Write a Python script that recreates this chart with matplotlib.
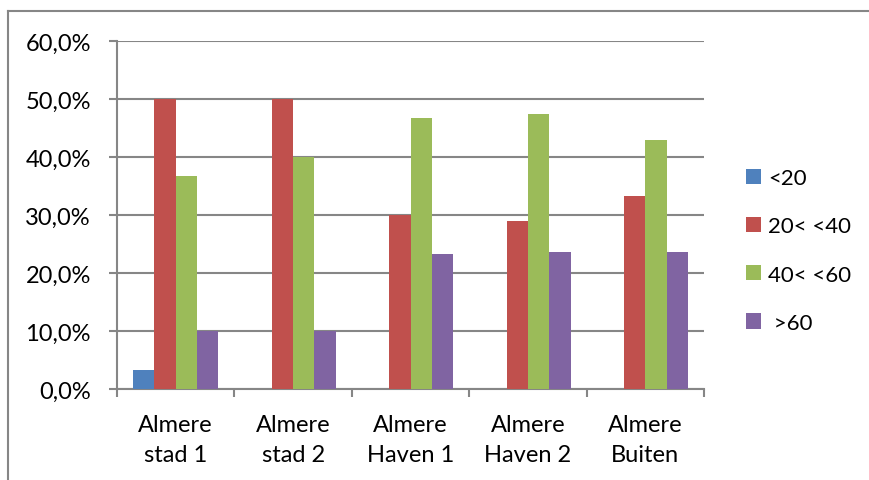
import matplotlib.pyplot as plt
import numpy as np

plt.rcParams['font.family'] = ['Lato', 'DejaVu Sans']

locaties = ['Almere\nstad 1', 'Almere\nstad 2', 'Almere\nHaven 1', 'Almere\nHaven 2', 'Almere\nBuiten']
groepen = ['<20', '20< <40', '40< <60', ' >60']
onder20 = [3.3, 0, 0, 0, 0]
van20tot40 = [50.0, 50.0, 30.0, 28.9, 33.3]
van40tot60 = [36.7, 40.0, 46.7, 47.4, 42.9]
boven60 = [10.0, 10.0, 23.3, 23.6, 23.7]
kleuren = ['#4f81bd', '#c0504d', '#9bbb59', '#8064a2']

fig = plt.figure(figsize=(8.69, 4.81), dpi=100)
ax = fig.add_axes([117/869, 1 - 390/481, (704-117)/869, (390-42)/481])

x = np.arange(len(locaties))
w = 1 / 5.5
reeksen = [onder20, van20tot40, van40tot60, boven60]
for i, (vals, kl, naam) in enumerate(zip(reeksen, kleuren, groepen)):
    ax.bar(x + (i - 1.5) * w, vals, w, color=kl, label=naam, zorder=3)

ax.set_xlim(-0.5, len(locaties) - 0.5)
ax.set_ylim(0, 60)
ax.set_yticks(np.arange(0, 61, 10))
ax.set_yticklabels([f'{v:.1f}%'.replace('.', ',') for v in range(0, 61, 10)])
ax.yaxis.grid(True, color='#868686', linewidth=1.5, zorder=0)

ax.set_xticks(np.arange(-0.5, len(locaties), 1))
ax.set_xticklabels([])
ax.set_xticks(x, minor=True)
ax.set_xticklabels(locaties, minor=True, fontsize=17, linespacing=1.55)
ax.tick_params(axis='x', which='minor', length=0, pad=18)
ax.tick_params(axis='x', which='major', length=5.8, width=1.5, color='#868686', direction='out')
ax.tick_params(axis='y', length=5.8, width=1.5, color='#868686', labelsize=17, pad=13)

for s in ['top', 'right']:
    ax.spines[s].set_visible(False)
for s in ['left', 'bottom']:
    ax.spines[s].set_color('#868686')
    ax.spines[s].set_linewidth(1.5)

ax.legend(loc='center left', bbox_to_anchor=(1.053, 0.398), frameon=False, fontsize=16,
          borderpad=0, handlelength=0.68, handleheight=0.68, labelspacing=1.27, handletextpad=0.3)

# rand van het kader
fig.add_artist(plt.Line2D([8/869, 8/869], [0, 1 - 12/481], color='#868686', linewidth=1.5))
fig.add_artist(plt.Line2D([8/869, 1], [1 - 12/481, 1 - 12/481], color='#868686', linewidth=1.5))

plt.savefig('out.png', dpi=100)
